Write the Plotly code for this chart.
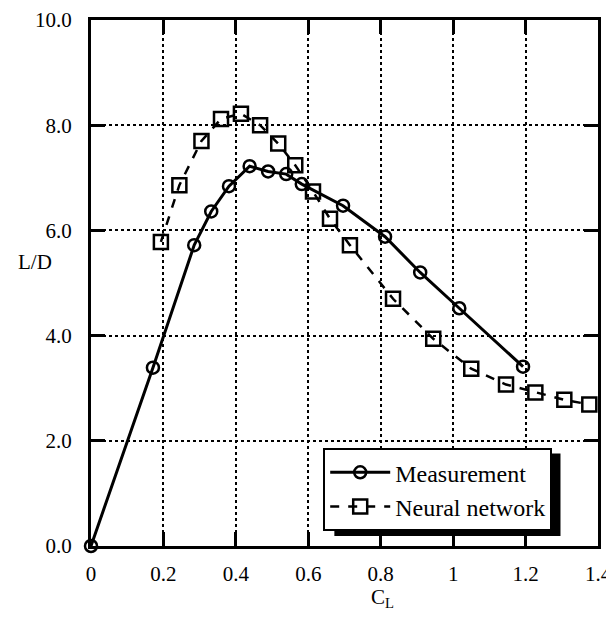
import plotly.graph_objects as go

# Measurement data
meas_cl = [0.0, 0.171, 0.285, 0.332, 0.381, 0.438, 0.489, 0.539, 0.582, 0.696, 0.812, 0.909, 1.017, 1.193]
meas_ld = [0.0, 3.39, 5.72, 6.36, 6.84, 7.22, 7.12, 7.07, 6.88, 6.47, 5.88, 5.20, 4.52, 3.41]

# Neural network data
nn_cl = [0.193, 0.244, 0.305, 0.359, 0.414, 0.467, 0.517, 0.564, 0.613, 0.660, 0.715, 0.834, 0.945, 1.050, 1.146, 1.227, 1.307, 1.376]
nn_ld = [5.78, 6.86, 7.70, 8.12, 8.22, 8.00, 7.65, 7.24, 6.74, 6.22, 5.72, 4.70, 3.94, 3.37, 3.07, 2.92, 2.78, 2.69]

x_ticks = [0, 0.2, 0.4, 0.6, 0.8, 1.0, 1.2, 1.4]
x_tick_text = ["0", "0.2", "0.4", "0.6", "0.8", "1", "1.2", "1.4"]
y_ticks = [0, 2, 4, 6, 8, 10]
y_tick_text = ["0.0", "2.0", "4.0", "6.0", "8.0", "10.0"]

FONT = "Liberation Serif, Times New Roman, serif"

fig = go.Figure()
fig.add_trace(go.Scatter(
    x=meas_cl, y=meas_ld, name="Measurement", mode="lines+markers",
    line=dict(color="black", width=3),
    marker=dict(symbol="circle-open", size=12, color="black", line=dict(width=2.5)),
    cliponaxis=False,
))
fig.add_trace(go.Scatter(
    x=nn_cl, y=nn_ld, name="Neural network", mode="lines+markers",
    line=dict(color="black", width=2.5, dash="dash"),
    marker=dict(symbol="square-open", size=14, color="black", line=dict(width=2.5)),
    cliponaxis=False,
))

axis_common = dict(
    showline=True, linecolor="black", linewidth=3, mirror="allticks",
    ticks="inside", ticklen=14, tickwidth=3, tickcolor="black",
    showgrid=True, gridcolor="black", gridwidth=2, griddash="dot",
    zeroline=False, tickfont=dict(family=FONT, size=21, color="black"),
    automargin=False, ticklabeloverflow="allow",
)

fig.update_xaxes(range=[0, 1.4], tickvals=x_ticks, ticktext=x_tick_text, ticklabelstandoff=7, **axis_common)
fig.update_yaxes(range=[0, 10], tickvals=y_ticks, ticktext=y_tick_text, ticklabelstandoff=12, **axis_common)

fig.add_annotation(text="L/D", xref="paper", yref="paper", x=-0.11, y=0.54,
                   showarrow=False, xanchor="center", yanchor="middle",
                   font=dict(family=FONT, size=21, color="black"))
fig.add_annotation(text="C<sub>L</sub>", xref="paper", yref="paper", x=0.575, y=-0.098,
                   showarrow=False, xanchor="center", yanchor="middle",
                   font=dict(family=FONT, size=21, color="black"))

# legend drop shadow
fig.add_shape(type="rect", xref="paper", yref="paper",
              x0=0.48, x1=0.926, y0=0.019, y1=0.176,
              fillcolor="black", line=dict(width=0), layer="above")

fig.update_layout(
    width=606, height=604,
    margin=dict(l=83, r=16, t=12, b=66),
    paper_bgcolor="white", plot_bgcolor="white",
    showlegend=True,
    legend=dict(
        x=0.458, y=0.186, xanchor="left", yanchor="top",
        bgcolor="white", bordercolor="black", borderwidth=2,
        font=dict(family=FONT, size=24, color="black"),
        itemwidth=60, tracegroupgap=0,
    ),
)

fig.write_html("out.html")
